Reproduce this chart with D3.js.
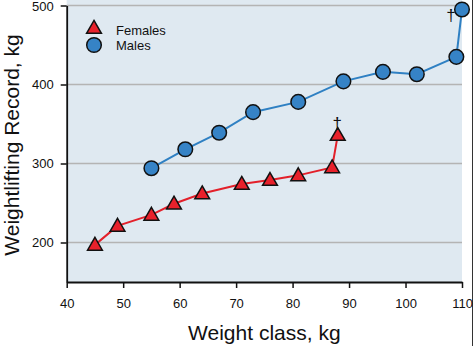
<!DOCTYPE html>
<html><head><meta charset="utf-8">
<script src="https://cdn.jsdelivr.net/npm/d3@7"></script>
<style>body{margin:0;background:#fff}svg{display:block;font-family:"Liberation Sans",Arial,sans-serif}</style>
</head><body><svg id="c" width="474" height="346"></svg>
<script>
const femaleClasses = [45, 49, 55, 59, 64, 71, 76, 81, 87, 88];
const femaleValues  = [197, 221, 235, 249, 262, 274, 279, 285, 295, 336];
const maleClasses   = [55, 61, 67, 73, 81, 89, 96, 102, 109, 110];
const maleValues    = [294, 318, 339, 365, 378, 404, 416, 413, 435, 495];
const xTicks = [40, 50, 60, 70, 80, 90, 100, 110];
const yTicks = [200, 300, 400, 500];
const dagger = "\u2020";

const svg = d3.select("#c");
const x = d3.scaleLinear().domain([40, 110]).range([66.7, 462]);
const y = d3.scaleLinear().domain([150, 500]).range([282, 5.5]);

svg.append("rect").attr("x", x(40)).attr("y", 0).attr("width", x(110) - x(40)).attr("height", y(150))
  .attr("fill", "#dfe9f1");
svg.append("line").attr("x1", 472.5).attr("x2", 472.5).attr("y1", 0).attr("y2", 346).attr("stroke", "#333").attr("stroke-width", 1);

svg.append("g").selectAll("line").data(yTicks).join("line")
  .attr("x1", x(40)).attr("x2", x(110)).attr("y1", d => y(d)).attr("y2", d => y(d))
  .attr("stroke", "#b4b4b4").attr("stroke-width", 1.6);

const xAxis = svg.append("g").attr("transform", `translate(0,${y(150)})`)
  .call(d3.axisBottom(x).tickValues(xTicks).tickSize(6).tickSizeOuter(0));
const yAxis = svg.append("g").attr("transform", `translate(${x(40)},0)`)
  .call(d3.axisLeft(y).tickValues(yTicks).tickSize(6).tickSizeOuter(0));
[xAxis, yAxis].forEach(a => {
  a.select(".domain").attr("stroke", "#111").attr("stroke-width", 1.8);
  a.selectAll(".tick line").attr("stroke", "#111").attr("stroke-width", 1.5);
  a.selectAll("text").attr("font-size", 13).attr("fill", "#111").attr("font-family", "Liberation Sans, Arial, sans-serif");
});
xAxis.selectAll("text").attr("dy", "1.3em");
yAxis.selectAll("text").attr("dx", "-0.3em");
yAxis.selectAll(".tick").filter(d => d === 500).select("text").attr("dy", "0.4em");

const line = d3.line().x(d => x(d[0])).y(d => y(d[1]));
const fem = femaleClasses.map((c, i) => [c, femaleValues[i]]);
const mal = maleClasses.map((c, i) => [c, maleValues[i]]);

svg.append("path").datum(mal).attr("d", line).attr("fill", "none").attr("stroke", "#2f80c3").attr("stroke-width", 2);
svg.append("path").datum(fem).attr("d", line).attr("fill", "none").attr("stroke", "#e3202a").attr("stroke-width", 2);

const tri = d3.symbol().type(d3.symbolTriangle).size(95);
function triangle(g, cx, cy) {
  g.append("path").attr("d", tri()).attr("transform", `translate(${cx},${cy + 1})`)
    .attr("fill", "#e8212b").attr("stroke", "#111").attr("stroke-width", 1.5);
}
function circle(g, cx, cy) {
  g.append("circle").attr("cx", cx).attr("cy", cy).attr("r", 7.3)
    .attr("fill", "#3683c6").attr("stroke", "#111").attr("stroke-width", 1.5);
}
const marks = svg.append("g");
mal.forEach(d => circle(marks, x(d[0]), y(d[1])));
fem.forEach(d => triangle(marks, x(d[0]), y(d[1])));

svg.append("text").attr("x", x(88) - 0.5).attr("y", y(femaleValues[9]) - 6).attr("text-anchor", "middle")
  .attr("font-size", 17).attr("fill", "#111").text(dagger);
svg.append("text").attr("x", 451).attr("y", y(maleValues[9]) + 12).attr("text-anchor", "middle")
  .attr("font-size", 17).attr("fill", "#111").text(dagger);

const leg = svg.append("g");
triangle(leg, 94, 28);
circle(leg, 94, 45);
leg.append("text").attr("x", 116).attr("y", 34.5).attr("font-size", 13).attr("fill", "#111").text("Females");
leg.append("text").attr("x", 116).attr("y", 50).attr("font-size", 13).attr("fill", "#111").text("Males");

svg.append("text").attr("x", (x(40) + x(110)) / 2).attr("y", 340).attr("text-anchor", "middle")
  .attr("font-size", 21).attr("fill", "#111").text("Weight class, kg");
svg.append("text").attr("transform", `translate(19,${(y(150) + 10) / 2 - 1}) rotate(-90)`).attr("text-anchor", "middle")
  .attr("font-size", 21).attr("fill", "#111").text("Weightlifting Record, kg");
</script></body></html>
